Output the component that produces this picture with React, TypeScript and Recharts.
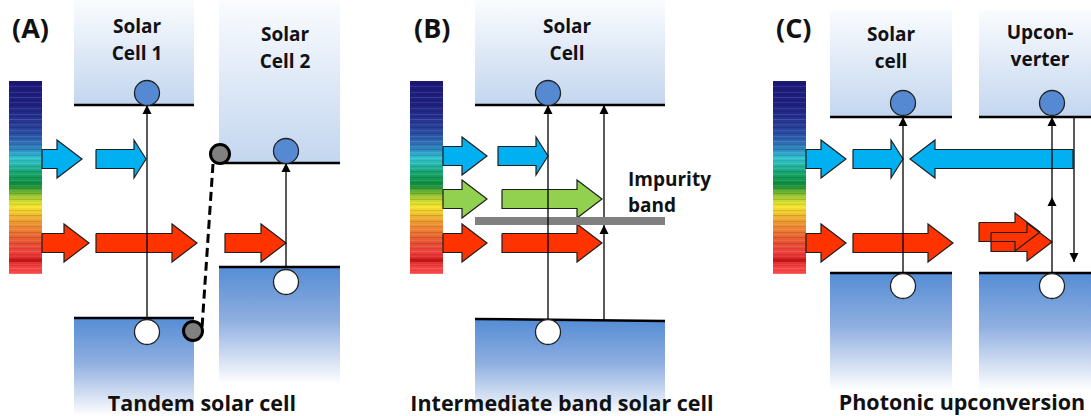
import React from 'react';
import { ComposedChart, XAxis, YAxis, Area, Line, Scatter, ReferenceArea } from 'recharts';

const W = 1091;
const H = 416;
const FONT = '"Open Sans", Lato, sans-serif';

// conduction-band blocks (light) and valence-band blocks (dark), in diagram units
const conductionBlocks = [
  { x1: 74, x2: 194, y1: 0, y2: 105 },
  { x1: 219, x2: 340, y1: 0, y2: 163 },
  { x1: 475, x2: 665, y1: 0, y2: 105 },
  { x1: 830, x2: 952, y1: 10, y2: 117 },
  { x1: 979, x2: 1091, y1: 10, y2: 117 },
];
const valenceBlocks = [
  { x1: 74, x2: 194, y1: 318, y2: 416 },
  { x1: 219, x2: 340, y1: 267, y2: 384 },
  { x1: 475, x2: 665, y1: 320, y2: 416 },
  { x1: 830, x2: 952, y1: 273, y2: 390 },
  { x1: 979, x2: 1091, y1: 273, y2: 390 },
];

// band edges: [xStart, yStart, xEnd, yEnd]
const bandEdges = [
  [74, 105, 194, 105],
  [219, 163, 340, 163],
  [74, 318, 194, 318],
  [219, 267, 340, 267],
  [475, 105, 665, 105],
  [475, 319, 665, 321],
  [830, 117, 952, 117],
  [979, 117, 1091, 117],
  [830, 273, 952, 273],
  [979, 273, 1091, 273],
];
const impurityBand = [475, 221, 665, 221];
const tunnelJunction = [213, 164, 202, 328];

const spectra = [
  { x1: 9, x2: 42 },
  { x1: 410, x2: 443 },
  { x1: 773, x2: 806 },
];
const spectrumTop = 81;
const spectrumBottom = 274;

// excitation arrows: x, start level, tip level
const transitions = [
  { x: 147, from: 318, to: 105 },
  { x: 286, from: 267, to: 163 },
  { x: 548, from: 320, to: 105 },
  { x: 604, from: 320, to: 225 },
  { x: 604, from: 217, to: 105 },
  { x: 903, from: 273, to: 117 },
  { x: 1052, from: 273, to: 197 },
  { x: 1052, from: 197, to: 117 },
  { x: 1074, from: 117, to: 262 },
];

// photon arrows: tail, tip, centre line, head length
const blueArrows = [
  { tail: 42, tip: 82, y: 159, head: 25 },
  { tail: 96, tip: 146, y: 159, head: 12 },
  { tail: 443, tip: 487, y: 156, head: 25 },
  { tail: 498, tip: 548, y: 156, head: 12 },
  { tail: 806, tip: 846, y: 159, head: 25 },
  { tail: 853, tip: 903, y: 159, head: 12 },
  { tail: 1073, tip: 910, y: 159, head: 25 },
];
const greenArrows = [
  { tail: 443, tip: 487, y: 199, head: 25 },
  { tail: 502, tip: 602, y: 199, head: 25 },
];
const redArrows = [
  { tail: 42, tip: 89, y: 243, head: 25 },
  { tail: 96, tip: 197, y: 243, head: 25 },
  { tail: 225, tip: 286, y: 243, head: 25 },
  { tail: 443, tip: 487, y: 243, head: 25 },
  { tail: 502, tip: 602, y: 243, head: 25 },
  { tail: 806, tip: 846, y: 243, head: 25 },
  { tail: 853, tip: 953, y: 243, head: 25 },
  { tail: 979, tip: 1040, y: 232, head: 25 },
  { tail: 991, tip: 1052, y: 242, head: 25 },
];

const electrons = [
  { x: 147, y: 93 },
  { x: 286, y: 151 },
  { x: 548, y: 93 },
  { x: 903, y: 103 },
  { x: 1052, y: 103 },
];
const holes = [
  { x: 147, y: 332 },
  { x: 286, y: 282 },
  { x: 548, y: 332 },
  { x: 903, y: 286 },
  { x: 1052, y: 286 },
];
const junctionCarriers = [
  { x: 193, y: 331 },
  { x: 220, y: 154 },
];

const panelTags = [
  { x: 12, y: 38, text: '(A)' },
  { x: 414, y: 38, text: '(B)' },
  { x: 776, y: 38, text: '(C)' },
];
const cellNames = [
  { x: 137, y: 33, text: 'Solar' },
  { x: 137, y: 60, text: 'Cell 1' },
  { x: 285, y: 41, text: 'Solar' },
  { x: 285, y: 68, text: 'Cell 2' },
  { x: 567, y: 33, text: 'Solar' },
  { x: 567, y: 60, text: 'Cell' },
  { x: 891, y: 41, text: 'Solar' },
  { x: 891, y: 68, text: 'cell' },
  { x: 1040, y: 39, text: 'Upcon-' },
  { x: 1040, y: 66, text: 'verter' },
];
const bandNotes = [
  { x: 628, y: 186, text: 'Impurity' },
  { x: 628, y: 212, text: 'band' },
];
const captions = [
  { x: 202, y: 411, text: 'Tandem solar cell' },
  { x: 562, y: 411, text: 'Intermediate band solar cell' },
  { x: 962, y: 410, text: 'Photonic upconversion' },
];

const spectrumStops: [number, string][] = [
  [0, '#1c1878'], [0.12, '#1f2180'], [0.19, '#25308e'], [0.26, '#2a48a0'],
  [0.31, '#2d64ae'], [0.36, '#2e90c4'], [0.4, '#30c4d0'], [0.44, '#24b4a0'],
  [0.49, '#14a060'], [0.54, '#0e8a3a'], [0.58, '#78b830'], [0.62, '#c8d830'],
  [0.65, '#f4e428'], [0.69, '#f0c030'], [0.73, '#ee9a30'], [0.79, '#ea7030'],
  [0.84, '#e85034'], [0.9, '#ec3a3a'], [0.935, '#c81010'], [0.95, '#f04040'],
  [1, '#ff4848'],
];

// thin horizontal streaks laid over the spectrum gradient
const streaks: [number, string, number][] = [
  [1, '#000', 0.12], [4, '#fff', 0.1], [6, '#000', 0.08], [9, '#fff', 0.14],
  [12, '#000', 0.1], [14, '#fff', 0.08], [17, '#000', 0.14], [20, '#fff', 0.1],
];

const BODY = 9.5;
const HEAD = 19;
const TIP = 9;
const TIP_W = 4.5;

type Arrow = { tail: number; tip: number; y: number; head: number };

const arrowBase = (a: Arrow) => a.tip - Math.sign(a.tip - a.tail) * a.head;

const arrowFill = (a: Arrow) => {
  const b = arrowBase(a);
  return [
    { x: a.tail, r: [a.y - BODY, a.y + BODY] },
    { x: b, r: [a.y - BODY, a.y + BODY] },
    { x: b, r: [a.y - HEAD, a.y + HEAD] },
    { x: a.tip, r: [a.y, a.y] },
  ];
};

const arrowEdge = (a: Arrow) => {
  const b = arrowBase(a);
  return [
    { x: a.tail, y: a.y - BODY },
    { x: b, y: a.y - BODY },
    { x: b, y: a.y - HEAD },
    { x: a.tip, y: a.y },
    { x: b, y: a.y + HEAD },
    { x: b, y: a.y + BODY },
    { x: a.tail, y: a.y + BODY },
    { x: a.tail, y: a.y - BODY },
  ];
};

const headFill = (t: { x: number; from: number; to: number }) => {
  const back = t.to + Math.sign(t.from - t.to) * TIP;
  return [
    { x: t.x - TIP_W, r: [back, back] },
    { x: t.x, r: [t.to, back] },
    { x: t.x + TIP_W, r: [back, back] },
  ];
};

const seg = (s: number[]) => [
  { x: s[0], y: s[1] },
  { x: s[2], y: s[3] },
];

const textShape = (size: number, anchor: 'start' | 'middle') => (p: any) => (
  <text
    x={p.cx}
    y={p.cy}
    textAnchor={anchor}
    fontFamily={FONT}
    fontWeight={700}
    fontSize={size}
    fill="#111"
  >
    {p.payload.text}
  </text>
);

const circleShape = (r: number, fill: string, stroke: string, sw: number) => (p: any) => (
  <circle cx={p.cx} cy={p.cy} r={r} fill={fill} stroke={stroke} strokeWidth={sw} />
);

const drawArrows = (list: Arrow[], color: string, key: string) =>
  list.flatMap((a, i) => [
    <Area
      key={`${key}-f${i}`}
      data={arrowFill(a)}
      dataKey="r"
      type="linear"
      fill={color}
      fillOpacity={1}
      stroke="none"
      isAnimationActive={false}
      activeDot={false}
    />,
    <Line
      key={`${key}-e${i}`}
      data={arrowEdge(a)}
      dataKey="y"
      type="linear"
      stroke="#1e1e1e"
      strokeWidth={1.2}
      dot={false}
      activeDot={false}
      isAnimationActive={false}
    />,
  ]);

export default function App() {
  return (
    <div style={{ position: 'absolute', left: 0, top: 0, background: '#fff' }}>
      <ComposedChart width={W} height={H} margin={{ top: 0, right: 0, bottom: 0, left: 0 }}>
        <defs>
          <linearGradient id="cbFill" x1="0" y1="0" x2="0" y2="1">
            <stop offset="0" stopColor="#fafcfe" />
            <stop offset="1" stopColor="#c3d6ef" />
          </linearGradient>
          <linearGradient id="vbFill" x1="0" y1="0" x2="0" y2="1">
            <stop offset="0" stopColor="#558dd5" />
            <stop offset="0.45" stopColor="#8eaee0" />
            <stop offset="1" stopColor="#ffffff" />
          </linearGradient>
          <linearGradient id="specFill" x1="0" y1="0" x2="0" y2="1">
            {spectrumStops.map(([o, c]) => (
              <stop key={o} offset={o} stopColor={c} />
            ))}
          </linearGradient>
          <pattern id="specStreaks" x="0" y="0" width="40" height="22" patternUnits="userSpaceOnUse">
            {streaks.map(([y, c, o]) => (
              <rect key={y} x={0} y={y} width={40} height={1} fill={c} fillOpacity={o} />
            ))}
          </pattern>
        </defs>
        <XAxis type="number" dataKey="x" domain={[0, W]} hide allowDataOverflow />
        <YAxis type="number" domain={[0, H]} reversed hide allowDataOverflow />

        {conductionBlocks.map((b, i) => (
          <ReferenceArea key={`cb${i}`} {...b} fill="url(#cbFill)" fillOpacity={1} stroke="none" ifOverflow="visible" />
        ))}
        {valenceBlocks.map((b, i) => (
          <ReferenceArea key={`vb${i}`} {...b} fill="url(#vbFill)" fillOpacity={1} stroke="none" ifOverflow="visible" />
        ))}
        {spectra.map((s, i) => (
          <ReferenceArea
            key={`sp${i}`}
            x1={s.x1}
            x2={s.x2}
            y1={spectrumTop}
            y2={spectrumBottom}
            fill="url(#specFill)"
            fillOpacity={1}
            stroke="none"
            ifOverflow="visible"
          />
        ))}
        {spectra.map((s, i) => (
          <ReferenceArea
            key={`st${i}`}
            x1={s.x1}
            x2={s.x2}
            y1={spectrumTop}
            y2={spectrumBottom}
            fill="url(#specStreaks)"
            fillOpacity={1}
            stroke="none"
            ifOverflow="visible"
          />
        ))}

        {drawArrows(blueArrows, '#00b0f0', 'blue')}
        {drawArrows(greenArrows, '#92d050', 'green')}
        {drawArrows(redArrows, '#ff3300', 'red')}

        {bandEdges.map((s, i) => (
          <Line
            key={`edge${i}`}
            data={seg(s)}
            dataKey="y"
            type="linear"
            stroke="#000"
            strokeWidth={2.5}
            dot={false}
            activeDot={false}
            isAnimationActive={false}
          />
        ))}
        <Line
          data={seg(impurityBand)}
          dataKey="y"
          type="linear"
          stroke="#808080"
          strokeWidth={8}
          dot={false}
          activeDot={false}
          isAnimationActive={false}
        />
        <Line
          data={seg(tunnelJunction)}
          dataKey="y"
          type="linear"
          stroke="#000"
          strokeWidth={3}
          strokeDasharray="9 5"
          dot={false}
          activeDot={false}
          isAnimationActive={false}
        />

        {transitions.map((t, i) => (
          <Line
            key={`tr${i}`}
            data={[
              { x: t.x, y: t.from },
              { x: t.x, y: t.to },
            ]}
            dataKey="y"
            type="linear"
            stroke="#000"
            strokeWidth={1.3}
            dot={false}
            activeDot={false}
            isAnimationActive={false}
          />
        ))}
        {transitions.map((t, i) => (
          <Area
            key={`hd${i}`}
            data={headFill(t)}
            dataKey="r"
            type="linear"
            fill="#000"
            fillOpacity={1}
            stroke="none"
            activeDot={false}
            isAnimationActive={false}
          />
        ))}

        <Scatter data={electrons} dataKey="y" shape={circleShape(12.5, '#558ad3', '#222', 1.3)} isAnimationActive={false} />
        <Scatter data={holes} dataKey="y" shape={circleShape(12.5, '#fff', '#222', 1.3)} isAnimationActive={false} />
        <Scatter data={junctionCarriers} dataKey="y" shape={circleShape(9.5, '#808080', '#000', 3)} isAnimationActive={false} />

        <Scatter data={panelTags} dataKey="y" shape={textShape(27, 'start')} isAnimationActive={false} />
        <Scatter data={cellNames} dataKey="y" shape={textShape(19, 'middle')} isAnimationActive={false} />
        <Scatter data={bandNotes} dataKey="y" shape={textShape(19, 'start')} isAnimationActive={false} />
        <Scatter data={captions} dataKey="y" shape={textShape(21.5, 'middle')} isAnimationActive={false} />
      </ComposedChart>
    </div>
  );
}
